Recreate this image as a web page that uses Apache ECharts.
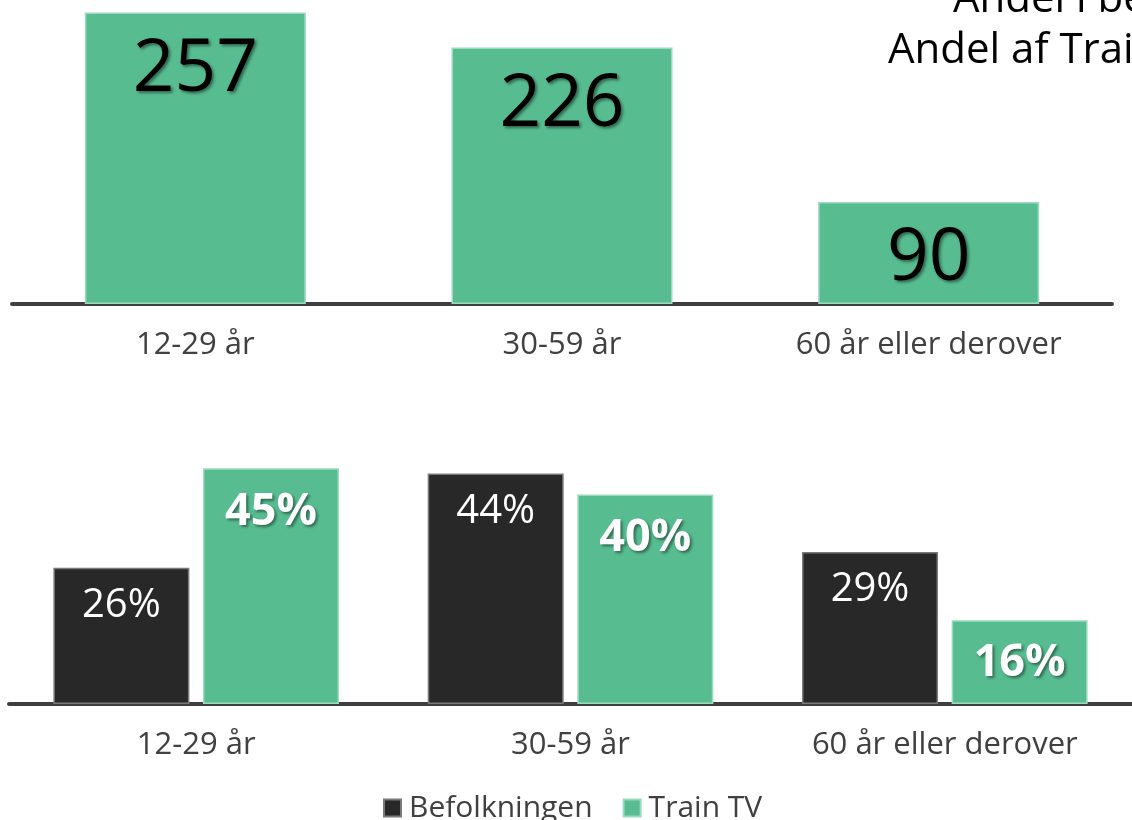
<!DOCTYPE html>
<html lang="da">
<head>
<meta charset="UTF-8">
<title>Train TV</title>
<style>
  html, body { margin: 0; padding: 0; background: #fff; }
  #main { width: 1132px; height: 820px; }
</style>
</head>
<body>
<div id="main"></div>
<script src="https://cdn.jsdelivr.net/npm/echarts@6/dist/echarts.min.js"></script>
<script>
  // alders-kategorier
  const categories = ['12-29 år', '30-59 år', '60 år eller derover'];
  // antal (øverste diagram)
  const antal = [257, 226, 90];
  // andele i procent (nederste diagram)
  const befolkningen = [26, 44, 29];
  const trainTV = [45, 40, 16];

  const green = '#57bd91';
  const dark = '#282828';
  const font = '"Open Sans", sans-serif';

  const axisLine = { show: true, lineStyle: { color: '#3f3f3f', width: 4 } };
  const axisLabel = { color: '#404040', fontSize: 31, fontFamily: font, margin: 26 };

  var myChart = echarts.init(document.getElementById('main'));
  var option = {
    animation: false,
    textStyle: { fontFamily: font },
    graphic: [
      { type: 'text', left: 953, top: -21, style: { text: 'Andel i befolkningen', font: '42px ' + font, fill: '#000' } },
      { type: 'text', left: 888, top: 30, style: { text: 'Andel af Train TV', font: '42px ' + font, fill: '#000' } }
    ],
    legend: {
      data: ['Befolkningen', 'Train TV'],
      left: 378,
      top: 788,
      icon: 'rect',
      itemWidth: 17,
      itemHeight: 17,
      itemGap: 30,
      textStyle: { color: '#404040', fontSize: 30, fontFamily: font, padding: [0, 0, 0, 3] }
    },
    grid: [
      { left: 12, right: 20, top: 9, bottom: 516 },
      { left: 9, right: -3, top: 442, bottom: 116 }
    ],
    xAxis: [
      { type: 'category', gridIndex: 0, data: categories, axisLine, axisTick: { show: false }, axisLabel },
      { type: 'category', gridIndex: 1, data: categories, axisLine, axisTick: { show: false }, axisLabel }
    ],
    yAxis: [
      { type: 'value', gridIndex: 0, min: 0, max: 260, show: false, splitLine: { show: false } },
      { type: 'value', gridIndex: 1, min: 0, max: 50, show: false, splitLine: { show: false } }
    ],
    series: [
      {
        name: 'Antal',
        type: 'bar',
        xAxisIndex: 0,
        yAxisIndex: 0,
        data: antal,
        barWidth: 221,
        itemStyle: { color: green, borderColor: '#9adbbd', borderWidth: 1.5 },
        label: {
          show: true,
          position: 'insideTop',
          distance: 21,
          color: '#000',
          fontSize: 73,
          fontFamily: font,
          textShadowColor: 'rgba(0,0,0,0.45)',
          textShadowBlur: 3,
          textShadowOffsetX: 2,
          textShadowOffsetY: 2
        }
      },
      {
        name: 'Befolkningen',
        type: 'bar',
        xAxisIndex: 1,
        yAxisIndex: 1,
        data: befolkningen,
        barWidth: 136,
        barGap: '10%',
        itemStyle: { color: dark, borderColor: '#7a7a7a', borderWidth: 1.5 },
        label: {
          show: true,
          position: 'insideTop',
          distance: 18,
          color: '#fff',
          fontSize: 40,
          fontFamily: font,
          formatter: '{c}%'
        }
      },
      {
        name: 'Train TV',
        type: 'bar',
        xAxisIndex: 1,
        yAxisIndex: 1,
        data: trainTV,
        barWidth: 136,
        barGap: '10%',
        itemStyle: { color: green, borderColor: '#9adbbd', borderWidth: 1.5 },
        label: {
          show: true,
          position: 'insideTop',
          distance: 21,
          color: '#fff',
          fontSize: 45,
          fontWeight: 'bold',
          fontFamily: font,
          formatter: '{c}%',
          textShadowColor: 'rgba(0,0,0,0.45)',
          textShadowBlur: 3,
          textShadowOffsetX: 2,
          textShadowOffsetY: 2
        }
      }
    ]
  };

  myChart.setOption(option);
</script>
</body>
</html>
